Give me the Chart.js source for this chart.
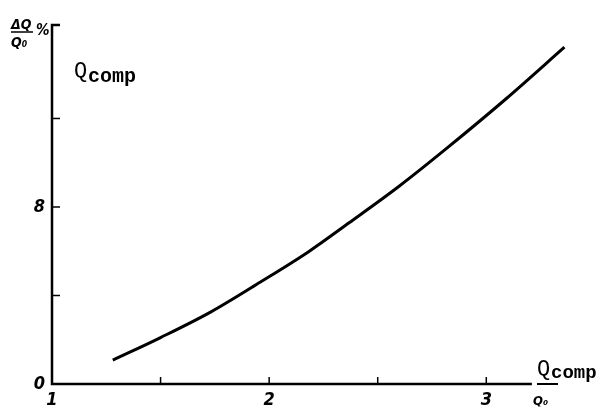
<!DOCTYPE html>
<html>
<head>
<meta charset="utf-8">
<script src="https://cdn.jsdelivr.net/npm/chart.js@4/dist/chart.umd.min.js"></script>
<style>
  html, body { margin: 0; padding: 0; background: #fff; }
  #wrap { width: 602px; height: 408px; }
</style>
</head>
<body>
<div id="wrap"><canvas id="chart" width="602" height="408"></canvas></div>
<script>
// curve: Qcomp/Q0 against dQ/Q0 in %
const ratioValues = [1.28, 1.50, 1.73, 1.96, 2.18, 2.37, 2.60, 2.82, 3.09, 3.36];
const deltaValues = [1.08, 2.10, 3.25, 4.61, 5.97, 7.30, 8.95, 10.67, 12.88, 15.22];

const xTicks = [1, 1.5, 2, 2.5, 3];
const xTickLabels = ['1', '', '2', '', '3'];
const yTicks = [0, 4, 8, 12];
const yTickLabels = ['0', '', '8', ''];

const tickFont = { family: 'DejaVu Sans Condensed, DejaVu Sans', size: 18, weight: 'bold', style: 'italic' };

// axes drawn by hand: inward ticks, hook at the top, axis break before Q0
const axesPlugin = {
    id: 'axes',
    afterDraw(chart) {
        const { ctx, scales: { x, y } } = chart;
        const x0 = x.getPixelForValue(1);
        const y0 = y.getPixelForValue(0);
        const yTop = chart.chartArea.top;
        ctx.save();
        ctx.strokeStyle = '#000';
        ctx.lineWidth = 2.5;
        ctx.lineCap = 'butt';

        ctx.beginPath();
        ctx.moveTo(x0 + 8, yTop + 1);
        ctx.lineTo(x0, yTop + 1);
        ctx.lineTo(x0, y0);
        ctx.lineTo(x.getPixelForValue(3.21), y0);
        ctx.stroke();

        // tick marks
        ctx.lineWidth = 1.5;
        xTicks.slice(1).forEach(v => {
            const px = x.getPixelForValue(v);
            ctx.beginPath();
            ctx.moveTo(px, y0);
            ctx.lineTo(px, y0 - 7);
            ctx.stroke();
        });
        yTicks.slice(1).forEach(v => {
            const py = y.getPixelForValue(v);
            ctx.beginPath();
            ctx.moveTo(x0, py);
            ctx.lineTo(x0 + 8, py);
            ctx.stroke();
        });

        // top-left label dQ/Q0 %
        ctx.fillStyle = '#000';
        ctx.textBaseline = 'alphabetic';
        ctx.textAlign = 'left';
        ctx.font = 'italic bold 14px DejaVu Sans Condensed, DejaVu Sans';
        ctx.fillText('ΔQ', 11, 29);
        ctx.fillText('Q₀', 11, 47);
        ctx.lineWidth = 1.5;
        ctx.beginPath();
        ctx.moveTo(11, 32);
        ctx.lineTo(33, 32);
        ctx.stroke();
        ctx.font = 'italic bold 15px DejaVu Sans Condensed, DejaVu Sans';
        ctx.fillText('%', 36, 35);

        // Qcomp in the plot
        ctx.font = '22px Liberation Mono';
        ctx.fillText('Q', 74, 77);
        ctx.font = 'bold 20px Liberation Mono';
        ctx.fillText('comp', 88, 82);

        // bottom-right label Qcomp / Q0
        ctx.font = '22px Liberation Mono';
        ctx.fillText('Q', 537, 375);
        ctx.font = 'bold 19px Liberation Mono';
        ctx.fillText('comp', 551, 378);
        ctx.lineWidth = 2;
        ctx.beginPath();
        ctx.moveTo(537, y0);
        ctx.lineTo(558, y0);
        ctx.stroke();
        ctx.font = 'italic bold 13px DejaVu Sans Condensed, DejaVu Sans';
        ctx.fillText('Q₀', 533, 405);

        ctx.restore();
    }
};

new Chart(document.getElementById('chart'), {
    type: 'line',
    data: {
        datasets: [{
            data: ratioValues.map((v, i) => ({ x: v, y: deltaValues[i] })),
            borderColor: '#000',
            borderWidth: 3,
            pointRadius: 0,
            fill: false,
            cubicInterpolationMode: 'monotone'
        }]
    },
    options: {
        responsive: false,
        animation: false,
        layout: { padding: { top: 24, right: 18, left: 0, bottom: 0 } },
        plugins: { legend: { display: false }, tooltip: { enabled: false } },
        scales: {
            x: {
                type: 'linear',
                min: 1,
                max: 3.45,
                afterBuildTicks: s => { s.ticks = xTicks.map(v => ({ value: v })); },
                afterFit: s => { s.height = 24; },
                grid: { display: false, drawTicks: false },
                border: { display: false },
                ticks: {
                    color: '#000',
                    font: tickFont,
                    padding: 6,
                    maxRotation: 0,
                    autoSkip: false,
                    callback: (v, i) => xTickLabels[i]
                }
            },
            y: {
                type: 'linear',
                min: 0,
                max: 16.27,
                afterBuildTicks: s => { s.ticks = yTicks.map(v => ({ value: v })); },
                afterFit: s => { s.width = 52; },
                grid: { display: false, drawTicks: false },
                border: { display: false },
                ticks: {
                    color: '#000',
                    font: tickFont,
                    padding: 7,
                    autoSkip: false,
                    callback: (v, i) => yTickLabels[i]
                }
            }
        }
    },
    plugins: [axesPlugin]
});
</script>
</body>
</html>
